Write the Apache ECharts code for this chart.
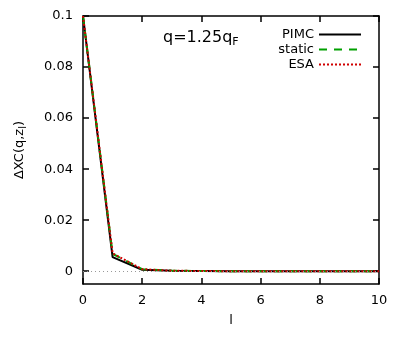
<!DOCTYPE html>
<html>
<head>
<meta charset="utf-8">
<script src="https://cdn.jsdelivr.net/npm/echarts@6/dist/echarts.min.js"></script>
<style>
  html, body { margin: 0; padding: 0; background: #fff; }
  #chart { width: 407px; height: 337px; }
</style>
</head>
<body>
<div id="chart"></div>
<script>
// l values and series
const lValues = [0, 1, 2, 3, 4, 5, 6, 7, 8, 9, 10]
const pimc = [0.1, 0.0055, 0.0006, 0.0002, 0.0001, 0.0, 0.0, 0.0, 0.0, 0.0, 0.0]
const staticVals = [0.1, 0.0068, 0.0008, 0.0002, 0.0001, 0.0, 0.0, 0.0, 0.0, 0.0, 0.0]
const esa = [0.1, 0.007, 0.0008, 0.0002, 0.0001, 0.0, 0.0, 0.0, 0.0, 0.0, 0.0]
const yTicks = [0, 0.02, 0.04, 0.06, 0.08, 0.1]

const font = 'DejaVu Sans'
const pairs = arr => lValues.map((l, i) => [l, arr[i]])

const chart = echarts.init(document.getElementById('chart'))

const axisCommon = {
  axisLine: { show: true, onZero: false, lineStyle: { color: '#000', width: 1.5 } },
  axisTick: { show: true, inside: true, length: 6, lineStyle: { color: '#000', width: 1.5 } },
  splitLine: { show: false }
}

chart.setOption({
  animation: false,
  grid: { left: 83, right: 28, top: 16, bottom: 53 },
  textStyle: { fontFamily: font },
  legend: {
    right: 40,
    top: 23,
    orient: 'vertical',
    align: 'right',
    itemGap: 2,
    itemWidth: 42,
    itemHeight: 14,
    itemStyle: { opacity: 0 },
    textStyle: { fontFamily: font, fontSize: 13, color: '#000' },
    data: ['PIMC', 'static', 'ESA']
  },
  graphic: [
    {
      type: 'text',
      left: 163,
      top: 30,
      style: {
        text: 'q=1.25q{s|F}',
        font: '16px DejaVu Sans',
        fill: '#000',
        rich: { s: { fontSize: 11, fontFamily: font, verticalAlign: 'bottom', padding: [8, 0, 0, 0] } }
      }
    }
  ],
  xAxis: [
    Object.assign({}, axisCommon, {
      type: 'value', min: 0, max: 10, interval: 2, position: 'bottom',
      name: 'l', nameLocation: 'middle', nameGap: 30,
      nameTextStyle: { fontFamily: font, fontSize: 13, color: '#000' },
      axisLabel: { color: '#000', fontFamily: font, fontSize: 13, margin: 10 }
    }),
    Object.assign({}, axisCommon, {
      type: 'value', min: 0, max: 10, interval: 2, position: 'top',
      axisLabel: { show: false }
    })
  ],
  yAxis: [
    Object.assign({}, axisCommon, {
      type: 'value', min: -0.005, max: 0.1, position: 'left',
      axisTick: Object.assign({}, axisCommon.axisTick, { customValues: yTicks }),
      axisLabel: {
        color: '#000', fontFamily: font, fontSize: 13, margin: 10,
        customValues: yTicks,
        formatter: v => (Math.abs(v) < 1e-9 ? '0' : String(+v.toFixed(2)))
      },
      name: 'ΔXC(q,z{s|l})', nameLocation: 'middle', nameGap: 55,
      nameTextStyle: {
        fontFamily: font, fontSize: 13, color: '#000',
        rich: { s: { fontSize: 10, fontFamily: font, padding: [6, 0, 0, 0] } }
      }
    }),
    Object.assign({}, axisCommon, {
      type: 'value', min: -0.005, max: 0.1, position: 'right',
      axisTick: Object.assign({}, axisCommon.axisTick, { customValues: yTicks }),
      axisLabel: { show: false }
    })
  ],
  series: [
    {
      name: 'PIMC', type: 'line', data: pairs(pimc), showSymbol: false, symbol: 'none',
      lineStyle: { color: '#000', width: 2 }, itemStyle: { color: '#000' }, z: 2,
      markLine: {
        silent: true, symbol: 'none', label: { show: false },
        lineStyle: { color: '#999', type: [1, 3], width: 1 },
        data: [{ yAxis: 0 }]
      }
    },
    {
      name: 'static', type: 'line', data: pairs(staticVals), showSymbol: false, symbol: 'none',
      lineStyle: { color: '#00a000', width: 2, type: [8, 7] }, itemStyle: { color: '#00a000' }, z: 3
    },
    {
      name: 'ESA', type: 'line', data: pairs(esa), showSymbol: false, symbol: 'none',
      lineStyle: { color: '#d00000', width: 2, type: [2, 2] }, itemStyle: { color: '#d00000' }, z: 4
    }
  ]
})
</script>
</body>
</html>
